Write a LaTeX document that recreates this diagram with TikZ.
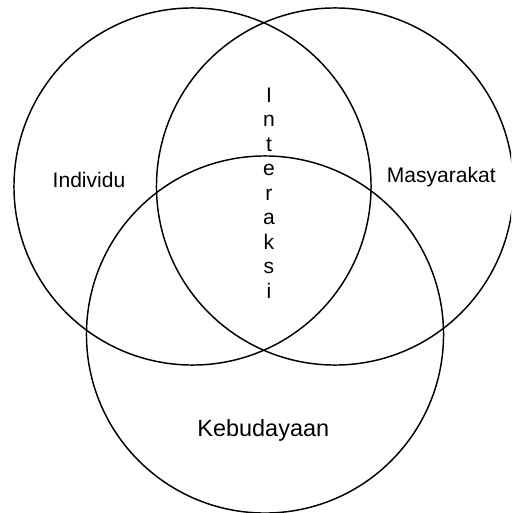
\documentclass[tikz,border=0pt]{standalone}
\usepackage{fontspec}
\setmainfont{Liberation Sans}
\begin{document}
\begin{tikzpicture}[x=0.75pt,y=-0.75pt,
  venn/.style={draw=black,line width=1.1pt},
  lbl/.style={inner sep=0pt,font=\fontsize{15.8pt}{18.4pt}\selectfont},
  biglbl/.style={inner sep=0pt,font=\fontsize{17.6pt}{20pt}\selectfont}]
\useasboundingbox (0,0) rectangle (511,513);
\clip (0,0) rectangle (511,513);
\draw[venn] (192.5,186.5) circle[radius=133.9pt];
\draw[venn] (335,186.5) circle[radius=133.9pt];
\draw[venn] (265,334.5) circle[radius=133.9pt];
\node[lbl,anchor=base] (ind) at (89,188) {Individu};
\node[lbl,anchor=base] (mas) at (441.3,182.7) {Masyarakat};
\node[biglbl,anchor=base] (keb) at (263.3,436.7) {Kebudayaan};
\node[lbl,anchor=north,align=center] (int) at (269,87.3) {I\\n\\t\\e\\r\\a\\k\\s\\i};
\end{tikzpicture}
\end{document}
